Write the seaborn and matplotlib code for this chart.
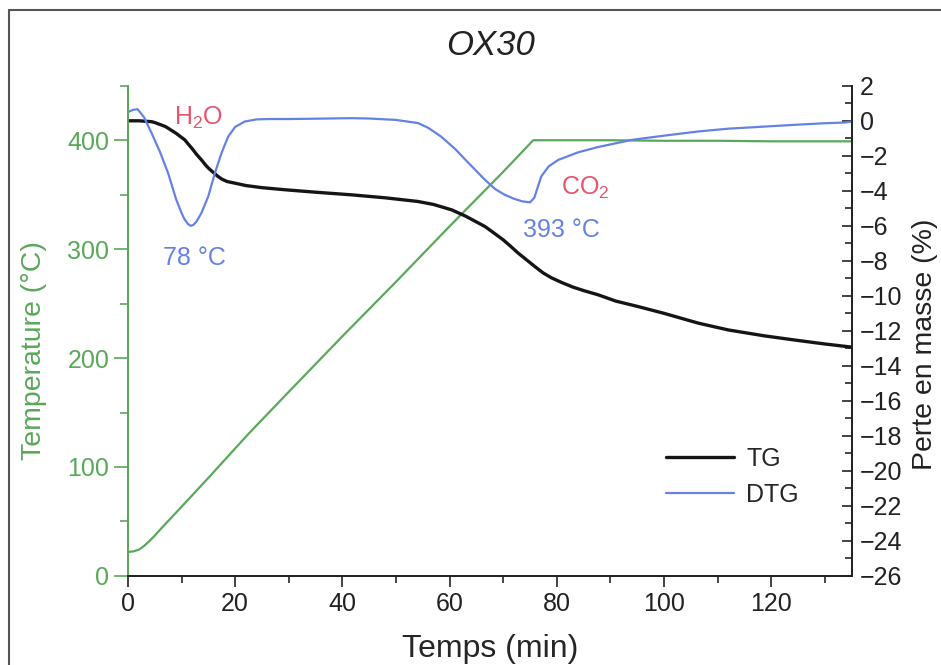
import numpy as np
import pandas as pd
import seaborn as sns
import matplotlib.pyplot as plt
from matplotlib.lines import Line2D
from matplotlib.ticker import MultipleLocator

# Temperature program (left axis, °C)
temp_time = [0, 1, 2, 3, 4, 5, 6, 8, 10, 15, 22.4, 30, 40, 50, 60, 70, 75.6,
             78, 90, 100, 110, 120, 135]
temp_vals = [22, 22.5, 24, 27.5, 32, 37, 42.5, 53, 63.5, 90, 130, 169, 220,
             270, 321, 371, 400, 400, 400, 399.5, 399.5, 399, 399]

# TG curve (right axis, %)
tg_time = [0, 2, 4.4, 5, 7, 9, 10.6, 11.3, 12, 12.8, 13.7, 14.4, 15, 15.8,
           16.8, 17.5, 18.5, 19.9, 22, 25, 29.3, 35, 41.7, 48, 54.1, 57, 60.4,
           63, 66.6, 68, 70, 71.5, 72.8, 74.5, 76, 77.5, 79, 81, 83, 85, 87.7,
           91, 95, 100, 106.4, 112, 118.8, 125, 130, 135]
tg_vals = [0, 0, -0.05, -0.1, -0.33, -0.72, -1.09, -1.35, -1.6, -1.92, -2.23,
           -2.5, -2.7, -2.92, -3.18, -3.33, -3.47, -3.56, -3.7, -3.82, -3.94,
           -4.08, -4.23, -4.4, -4.61, -4.78, -5.09, -5.45, -6.04, -6.35, -6.8,
           -7.2, -7.56, -7.98, -8.35, -8.7, -8.97, -9.25, -9.5, -9.7, -9.94,
           -10.3, -10.6, -11.0, -11.56, -11.95, -12.29, -12.55, -12.75, -12.93]

# DTG curve (drawn on the right axis scale)
dtg_time = [0, 1, 1.8, 3, 4.4, 6, 7.5, 9, 10, 10.5, 11.2, 11.7, 12.2, 12.8,
            13.7, 15, 16.2, 17.5, 18.7, 20, 21.8, 24, 26.2, 30, 35, 41.7, 45,
            50, 54.1, 56, 58.4, 61, 63.5, 66.6, 68.5, 70.3, 72, 73.5, 75, 75.8,
            77.1, 78.5, 80.3, 84, 87.7, 94, 100, 106.4, 112, 118.8, 125, 130,
            133.7, 135]
dtg_vals = [0.5, 0.63, 0.66, 0.2, -0.7, -1.8, -3.0, -4.5, -5.27, -5.6, -5.9,
            -6.0, -5.95, -5.75, -5.27, -4.3, -3.0, -1.8, -0.9, -0.35, -0.04,
            0.08, 0.1, 0.1, 0.12, 0.15, 0.13, 0.05, -0.13, -0.4, -0.9, -1.6,
            -2.4, -3.37, -3.9, -4.23, -4.45, -4.6, -4.66, -4.4, -3.18, -2.6,
            -2.23, -1.8, -1.5, -1.09, -0.85, -0.61, -0.45, -0.33, -0.22, -0.14,
            -0.1, -0.05]

green = "#5aa85a"
blue = "#6482e6"
red = "#e8566e"
dark = "#222222"

sns.set_style("ticks")
plt.rcParams['font.family'] = ['Liberation Sans', 'DejaVu Sans']
plt.rcParams['mathtext.fontset'] = 'custom'
plt.rcParams['mathtext.rm'] = 'Liberation Sans'
plt.rcParams['mathtext.default'] = 'regular'

fig = plt.figure(figsize=(9.41, 6.65), dpi=100)
ax = fig.add_axes([0.136, 0.134, 0.769, 0.737])
ax2 = ax.twinx()

temp_df = pd.DataFrame({"t": temp_time, "T": temp_vals})
tg_df = pd.DataFrame({"t": tg_time, "v": tg_vals})
dtg_df = pd.DataFrame({"t": dtg_time, "v": dtg_vals})

sns.lineplot(data=temp_df, x="t", y="T", ax=ax, color=green, lw=1.6, legend=False)
sns.lineplot(data=tg_df, x="t", y="v", ax=ax2, color="#151515", lw=2.4, label="TG")
sns.lineplot(data=dtg_df, x="t", y="v", ax=ax2, color=blue, lw=1.6, label="DTG")

ax.set_xlim(0, 135)
ax.set_ylim(0, 450)
ax2.set_ylim(-26, 2)

ax.xaxis.set_major_locator(MultipleLocator(20))
ax.xaxis.set_minor_locator(MultipleLocator(10))
ax.yaxis.set_major_locator(MultipleLocator(100))
ax.yaxis.set_minor_locator(MultipleLocator(50))
ax2.yaxis.set_major_locator(MultipleLocator(2))
ax2.yaxis.set_minor_locator(MultipleLocator(1))

ax.tick_params(axis='x', which='major', direction='out', length=8, width=1.2,
               labelsize=18, colors=dark)
ax.tick_params(axis='x', which='minor', direction='out', length=5, width=1.2)
ax.tick_params(axis='y', which='major', direction='out', length=10, width=1.2,
               labelsize=18, colors=green)
ax.tick_params(axis='y', which='minor', direction='out', length=6, width=1.2,
               colors=green)
ax2.tick_params(axis='y', which='major', direction='in', length=7, width=1.2,
                labelsize=18, colors=dark, pad=6)
ax2.tick_params(axis='y', which='minor', direction='in', length=5, width=1.2)

for a in (ax, ax2):
    a.spines['top'].set_visible(False)
    a.spines['left'].set_color(green)
    a.spines['bottom'].set_color(dark)
    a.spines['right'].set_color(dark)
    for s in a.spines.values():
        s.set_linewidth(1.3)

ax.set_xlabel("Temps (min)", fontsize=23)
ax.xaxis.set_label_coords(0.5, -0.118)
ax.set_ylabel("Temperature (°C)", fontsize=20.5, color=green)
ax.yaxis.set_label_coords(-0.112, 0.459)
ax2.set_ylabel("Perte en masse (%)", fontsize=20.5, color=dark)
ax2.yaxis.set_label_coords(1.084, 0.473)

fig.text(0.521, 0.932, "OX30", fontsize=25, style='italic', ha='center',
         va='center', color=dark)

ax2.text(13.1, 0.17, "H$_2$O", color=red, fontsize=18, ha='center', va='center')
ax2.text(12.4, -7.83, "78 °C", color=blue, fontsize=18, ha='center', va='center')
ax2.text(85.3, -3.83, "CO$_2$", color=red, fontsize=18, ha='center', va='center')
ax2.text(80.8, -6.23, "393 °C", color=blue, fontsize=18, ha='center', va='center')

ax2.legend(loc=(0.73, 0.12), frameon=False, fontsize=18, handlelength=2.7,
           labelspacing=0.5, handletextpad=0.5)

# partial figure frame (left and top edges)
fig.add_artist(Line2D([0.0096, 0.0096], [0, 0.985], transform=fig.transFigure,
                      color='#555555', lw=1.5))
fig.add_artist(Line2D([0.0096, 1], [0.985, 0.985], transform=fig.transFigure,
                      color='#555555', lw=1.5))

fig.savefig("out.png", dpi=100)
